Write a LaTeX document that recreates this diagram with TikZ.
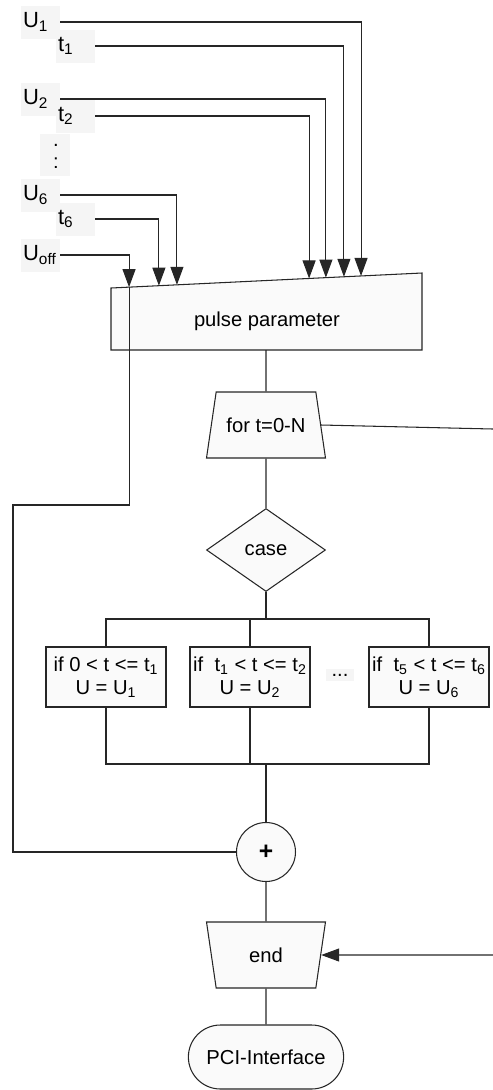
\documentclass[tikz,border=0pt]{standalone}
\usepackage{fontspec}
\setmainfont{Liberation Sans}
\usetikzlibrary{arrows.meta,shapes.geometric,shapes.misc,calc}

\tikzset{
  line/.style={draw=black!85, line width=0.6pt},
  arr/.style={line, -{Triangle[width=0.26cm,length=0.36cm]}},
  shapebox/.style={line, fill=black!2},
  labelbox/.style={fill=black!4, anchor=west, inner xsep=1pt, text width=0.7cm, minimum height=0.66cm, font=\fontsize{12.5}{14}\selectfont},
  casebox/.style={shapebox, rectangle, minimum width=2.4cm, minimum height=1.2cm, align=center, inner sep=1pt},
  loopbox/.style={shapebox, trapezium, trapezium angle=70, trapezium stretches body, minimum width=2.38cm, minimum height=1.32cm}
}

\begin{document}
\begin{tikzpicture}[x=0.02cm, y=-0.02cm, font=\fontsize{11.5}{13}\selectfont]
    \useasboundingbox (0,0) rectangle (493,1090);

    % Draw the pulse parameter block with its slanted top
    \coordinate (tl) at (111,288);
    \coordinate (tr) at (422,273);
    \draw[shapebox] (tl) -- (tr) -- (422,350) -- (111,350) -- cycle;
    \node (pp) at (267,321) {pulse parameter};
    \coordinate (ppB) at (266,350);

    % Arrow ends on the slanted top
    \coordinate (aUo) at ($(tl)!0.058!(tr)$);
    \coordinate (at6) at ($(tl)!0.154!(tr)$);
    \coordinate (aU6) at ($(tl)!0.212!(tr)$);
    \coordinate (at2) at ($(tl)!0.637!(tr)$);
    \coordinate (aU2) at ($(tl)!0.691!(tr)$);
    \coordinate (at1) at ($(tl)!0.749!(tr)$);
    \coordinate (aU1) at ($(tl)!0.804!(tr)$);

    % Input labels
    \node[labelbox] (U1) at (21,22) {U\textsubscript{1}};
    \node[labelbox] (t1) at (56,46) {t\textsubscript{1}};
    \node[labelbox] (U2) at (21,99) {U\textsubscript{2}};
    \node[labelbox] (t2) at (56,116) {t\textsubscript{2}};
    \fill[black!4] (40,134) rectangle (70,176);
    \node[inner sep=0pt] (dotsA) at (56,145) {.};
    \node[inner sep=0pt] (dotsB) at (56,163) {:};
    \node[labelbox] (U6) at (21,195) {U\textsubscript{6}};
    \node[labelbox] (t6) at (56,219) {t\textsubscript{6}};
    \node[labelbox] (Uo) at (21,255) {U\textsubscript{off}};

    % Inputs into the pulse parameter block
    \draw[arr] (U1) -| (aU1);
    \draw[arr] (t1) -| (at1);
    \draw[arr] (U2) -| (aU2);
    \draw[arr] (t2) -| (at2);
    \draw[arr] (U6) -| (aU6);
    \draw[arr] (t6) -| (at6);
    \draw[arr] (Uo) -| (aUo);

    % Loop, case and the three branches
    \node[loopbox] (for) at (266,425) {for t=0-N};
    \node[shapebox, diamond, minimum width=2.38cm, minimum height=1.66cm, inner sep=0pt] (case) at (266,550) {case};
    \node[casebox] (c1) at (106,677) {if 0 < t <= t\textsubscript{1}\\U = U\textsubscript{1}};
    \node[casebox] (c2) at (250,677) {if\ \ t\textsubscript{1} < t <= t\textsubscript{2}\\U = U\textsubscript{2}};
    \node[casebox] (c3) at (429,677) {if\ \ t\textsubscript{5} < t <= t\textsubscript{6}\\U = U\textsubscript{6}};
    \node[fill=black!4, inner sep=3pt] (more) at (340,675) {...};

    % Sum, end and interface
    \node[shapebox, circle, minimum size=1.18cm, inner sep=0pt, font=\bfseries\fontsize{14}{16}\selectfont] (plus) at (266,852) {+};
    \node[loopbox, shape border rotate=180] (end) at (266,955) {end};
    \node[shapebox, rounded rectangle, minimum width=3.34cm, minimum height=1.28cm] (pci) at (266,1057) {PCI-Interface};

    % Main flow
    \coordinate (busA) at (266,619);
    \coordinate (busB) at (266,764);
    \draw[line] (ppB) -- (for.north);
    \draw[line] (for.south) -- (case.north);
    \draw[line] (case.south) -- (busA);
    \draw[line] (c1.north) |- (busA) -| (c3.north);
    \draw[line] (c2.north) -- (c2.north |- busA);
    \draw[line] (c1.south) |- (busB) -| (c3.south);
    \draw[line] (c2.south) -- (c2.south |- busB);
    \draw[line] (busB) -- (plus);
    \draw[line] (plus) -- (end.north);
    \draw[line] (end.south) -- (pci.north);

    % Offset voltage goes round to the sum
    \coordinate (off1) at (13,505);
    \draw[line] (aUo) |- (off1) |- (plus);

    % Loop return
    \coordinate (loopR) at (493,429);
    \coordinate (endR) at (493,955);
    \draw[line] (for.east) -- (loopR);
    \draw[arr] (endR) -- (end.east);
\end{tikzpicture}
\end{document}
